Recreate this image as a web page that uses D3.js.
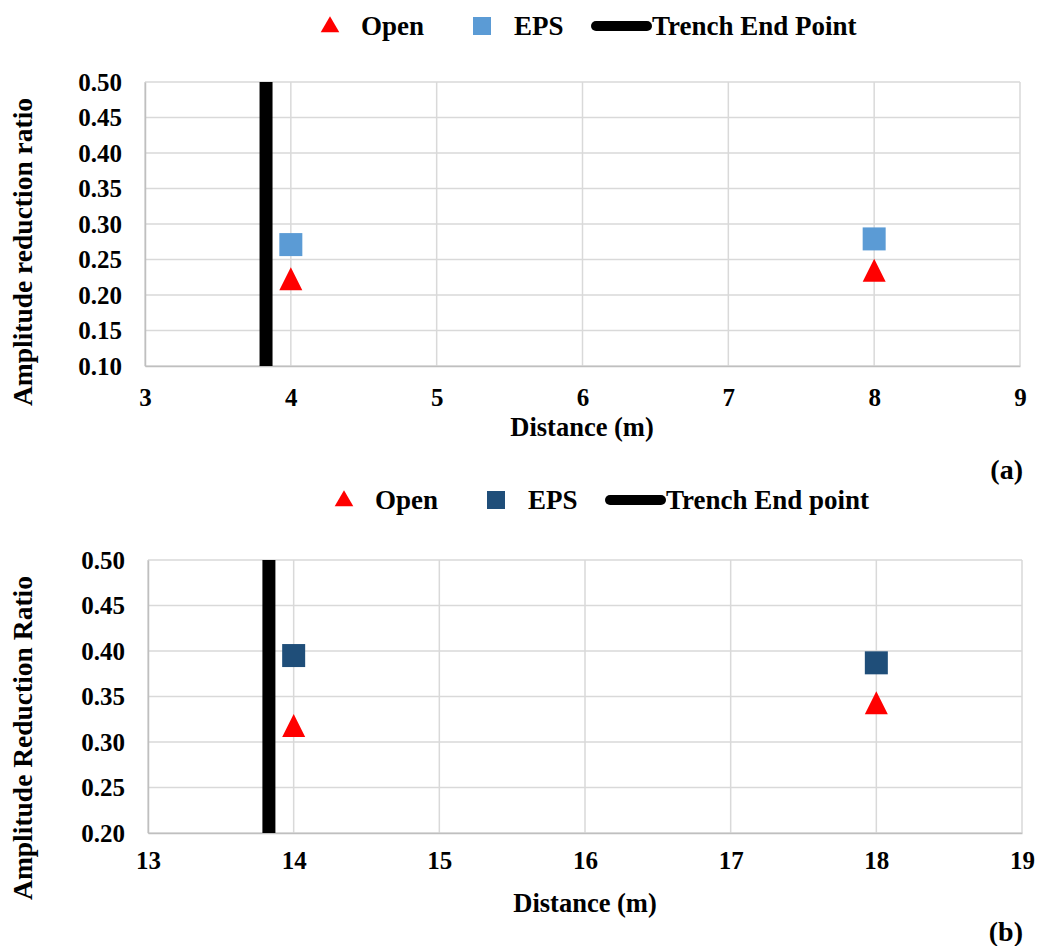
<!DOCTYPE html>
<html>
<head>
<meta charset="utf-8">
<script src="https://cdn.jsdelivr.net/npm/d3@7"></script>
<style>
  body { margin: 0; background: #fff; }
  text { font-family: "Liberation Serif", "Times New Roman", serif; font-weight: bold; fill: #000; }
</style>
</head>
<body>
<svg id="chart" width="1040" height="946"></svg>
<script>
// chart (a)
const distA = [4, 8];
const openA = [0.223, 0.235];
const epsA = [0.271, 0.279];
const trenchA = 3.83;
const xTicksA = [3, 4, 5, 6, 7, 8, 9];
const yTicksA = [0.10, 0.15, 0.20, 0.25, 0.30, 0.35, 0.40, 0.45, 0.50];

// chart (b)
const distB = [14, 18];
const openB = [0.318, 0.343];
const epsB = [0.395, 0.387];
const trenchB = 13.83;
const xTicksB = [13, 14, 15, 16, 17, 18, 19];
const yTicksB = [0.20, 0.25, 0.30, 0.35, 0.40, 0.45, 0.50];

const svg = d3.select("#chart");

// excel-like triangle: as tall as it is wide
const excelTriangle = {
    draw(ctx, size) {
        const w = Math.sqrt(size);
        ctx.moveTo(0, -w / 2);
        ctx.lineTo(w / 2, w / 2);
        ctx.lineTo(-w / 2, w / 2);
        ctx.closePath();
    }
};

function drawPanel(cfg) {
    const g = svg.append("g");
    const x = d3.scaleLinear().domain(d3.extent(cfg.xTicks)).range([cfg.left, cfg.right]);
    const y = d3.scaleLinear().domain(d3.extent(cfg.yTicks)).range([cfg.bottom, cfg.top]);

    // grid
    g.append("g").selectAll("line").data(cfg.yTicks).join("line")
        .attr("x1", cfg.left).attr("x2", cfg.right)
        .attr("y1", d => y(d)).attr("y2", d => y(d))
        .attr("stroke", "#d9d9d9").attr("stroke-width", 1.5);
    g.append("g").selectAll("line").data(cfg.xTicks).join("line")
        .attr("x1", d => x(d)).attr("x2", d => x(d))
        .attr("y1", cfg.top).attr("y2", cfg.bottom)
        .attr("stroke", "#d9d9d9").attr("stroke-width", 1.5);

    // axes
    const xAxis = g.append("g")
        .attr("transform", `translate(0,${cfg.bottom})`)
        .call(d3.axisBottom(x).tickValues(cfg.xTicks).tickFormat(d3.format("d")).tickSize(0).tickPadding(cfg.xPad));
    const yAxis = g.append("g")
        .attr("transform", `translate(${cfg.left},0)`)
        .call(d3.axisLeft(y).tickValues(cfg.yTicks).tickFormat(d3.format(".2f")).tickSize(0).tickPadding(23));
    [xAxis, yAxis].forEach(a => {
        a.select(".domain").attr("stroke", "#bfbfbf").attr("stroke-width", 1.5);
        a.selectAll("text").style("font-size", "25px").style("font-family", "Liberation Serif").style("font-weight", "bold");
    });

    // trench end line
    g.append("line")
        .attr("x1", x(cfg.trench)).attr("x2", x(cfg.trench))
        .attr("y1", y(cfg.yTicks[cfg.yTicks.length - 1])).attr("y2", y(cfg.yTicks[0]))
        .attr("stroke", "#000").attr("stroke-width", 13);

    // markers
    const tri = d3.symbol().type(excelTriangle).size(23 * 23);
    g.append("g").selectAll("path").data(cfg.dist).join("path")
        .attr("d", tri)
        .attr("transform", (d, i) => `translate(${x(d)},${y(cfg.open[i])})`)
        .attr("fill", "#ff0000");
    g.append("g").selectAll("rect").data(cfg.dist).join("rect")
        .attr("x", d => x(d) - 11.5).attr("width", 23)
        .attr("y", (d, i) => y(cfg.eps[i]) - 11.5).attr("height", 23)
        .attr("fill", cfg.epsColor);

    // axis titles
    g.append("text")
        .attr("x", cfg.xTitleX).attr("y", cfg.xTitleY)
        .attr("text-anchor", "middle").style("font-size", "26.5px")
        .text("Distance (m)");
    g.append("text")
        .attr("transform", `translate(32,${cfg.yTitleY}) rotate(-90)`)
        .attr("text-anchor", "middle").style("font-size", "27.5px")
        .text(cfg.yTitle);

    // legend
    const lg = g.append("g").attr("transform", `translate(0,${cfg.legendY})`);
    lg.append("path").attr("d", d3.symbol().type(d3.symbolTriangle).size(150))
        .attr("transform", `translate(${cfg.legendX},1)`).attr("fill", "#ff0000");
    lg.append("text").attr("x", cfg.legendX + 31).attr("y", 9).style("font-size", "27px").text("Open");
    lg.append("rect").attr("x", cfg.legendX + 143).attr("y", -9).attr("width", 18).attr("height", 18)
        .attr("fill", cfg.epsColor);
    lg.append("text").attr("x", cfg.legendX + 184).attr("y", 9).style("font-size", "27px").text("EPS");
    lg.append("line").attr("x1", cfg.legendX + 266).attr("x2", cfg.legendX + 317)
        .attr("y1", 0).attr("y2", 0)
        .attr("stroke", "#000").attr("stroke-width", 10).attr("stroke-linecap", "round");
    lg.append("text").attr("x", cfg.legendX + 322).attr("y", 9).style("font-size", "27px").text(cfg.trenchLabel);

    // panel tag
    g.append("text").attr("x", 1023).attr("y", cfg.tagY).attr("text-anchor", "end")
        .style("font-size", "28px").text(cfg.tag);
}

drawPanel({
    dist: distA, open: openA, eps: epsA, trench: trenchA,
    xTicks: xTicksA, yTicks: yTicksA,
    left: 145, right: 1020, top: 82, bottom: 366,
    xPad: 22, xTitleX: 582, xTitleY: 436,
    yTitle: "Amplitude reduction ratio", yTitleY: 252,
    epsColor: "#5b9bd5",
    legendX: 330, legendY: 26, trenchLabel: "Trench End Point",
    tag: "(a)", tagY: 479
});

drawPanel({
    dist: distB, open: openB, eps: epsB, trench: trenchB,
    xTicks: xTicksB, yTicks: yTicksB,
    left: 148, right: 1022, top: 560, bottom: 833,
    xPad: 18, xTitleX: 585, xTitleY: 912,
    yTitle: "Amplitude Reduction Ratio", yTitleY: 738,
    epsColor: "#1f4e79",
    legendX: 344, legendY: 500, trenchLabel: "Trench End point",
    tag: "(b)", tagY: 941
});
</script>
</body>
</html>
